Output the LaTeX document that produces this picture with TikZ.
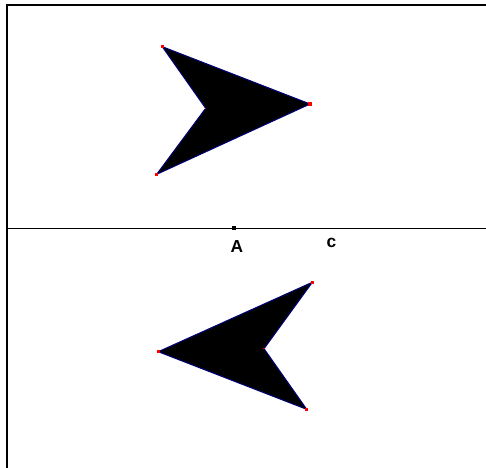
\documentclass[tikz,border=0pt]{standalone}
\usepackage{fontspec}
\setmainfont{Liberation Sans}
\begin{document}
\begin{tikzpicture}[
  x=0.75pt, y=-0.75pt,
  kite/.style={draw=blue!45!black, fill=black, line width=0.8pt, line join=miter},
  corner/.style={rectangle, fill=red, minimum size=2.4pt, inner sep=0pt},
  notch/.style={rectangle, fill=red, minimum size=1pt, inner sep=0pt},
  dot/.style={rectangle, fill=black, minimum size=3pt, inner sep=0pt},
  lbl/.style={font=\bfseries\fontsize{13}{15}\selectfont, inner sep=0pt}
]
  \useasboundingbox (0,0) rectangle (486,468);

  \coordinate (frameB) at (7,468);
  \coordinate (frameC) at (7,5);
  \coordinate (frameR) at (486,5);
  \draw[line width=1.6pt] (frameB) -- (frameC) -- (frameR);

  \coordinate (axisL) at (7,228.3);
  \coordinate (axisR) at (486,228.3);
  \draw[line width=1.1pt] (axisL) -- (axisR);

  \coordinate (T1) at (162.3,46.7);
  \coordinate (T2) at (310,104);
  \coordinate (T3) at (156.7,174.3);
  \coordinate (T4) at (205.7,108.3);
  \filldraw[kite] (T1) -- (T2) -- (T3) -- (T4) -- cycle;

  \coordinate (B1) at (312.3,282.3);
  \coordinate (B2) at (158.3,351.7);
  \coordinate (B3) at (306.7,409.3);
  \coordinate (B4) at (264,348.7);
  \filldraw[kite] (B1) -- (B2) -- (B3) -- (B4) -- cycle;

  \foreach \p in {T1,T2,T3,B1,B2,B3}
    \node[corner] at (\p) {};
  \node[notch] at (T4) {};
  \node[notch] at (B4) {};

  \node[dot] (ptA) at (234.3,227.7) {};
  \node[lbl] (labA) at (237,246.5) {A};
  \node[lbl] (labC) at (331.5,242.5) {c};
\end{tikzpicture}
\end{document}
